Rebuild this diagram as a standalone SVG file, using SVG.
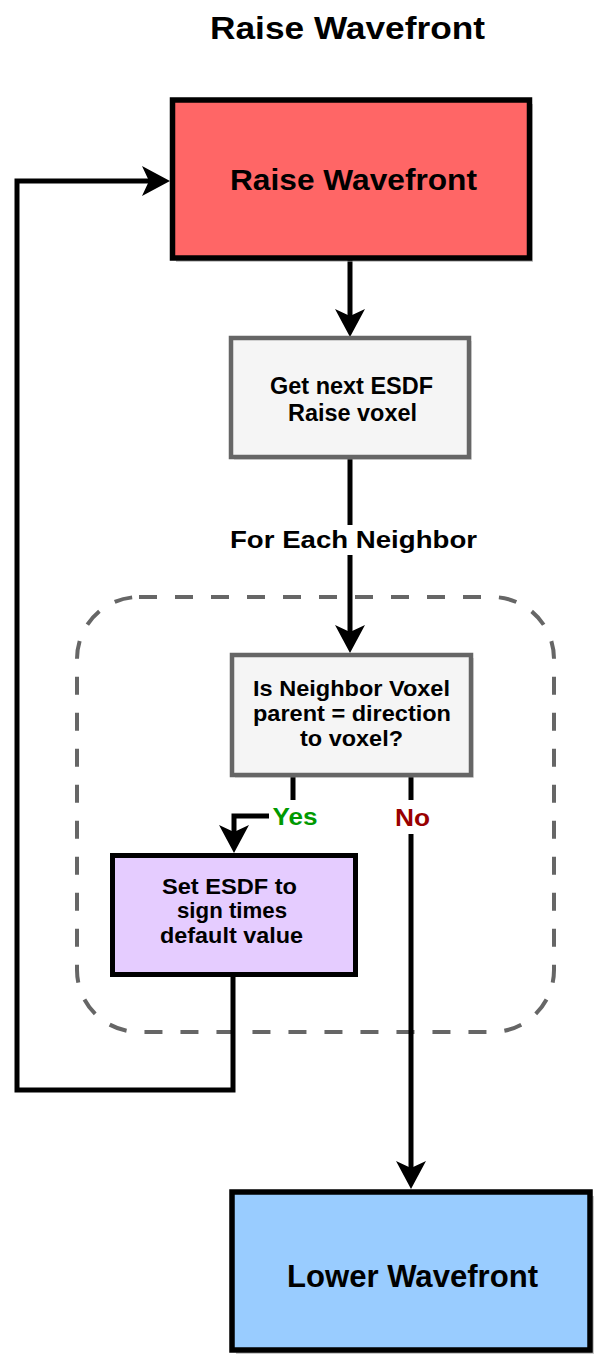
<svg xmlns="http://www.w3.org/2000/svg" width="598" height="1367" viewBox="0 0 598 1367">
<style>
text{font-family:"Liberation Sans",Arial,sans-serif;font-weight:bold;text-anchor:middle;fill:#000}
.conn{fill:none;stroke:#000;stroke-width:5;stroke-linejoin:miter}
.shadow{fill:#9a9a9a;opacity:0.55}
.grey{fill:#f5f5f5;stroke:#666;stroke-width:4.5}
.lbl{fill:#fff}
</style>
<defs>
<marker id="arr" markerUnits="userSpaceOnUse" viewBox="0 0 28 30" markerWidth="28" markerHeight="30" refX="7" refY="15" orient="auto">
<path d="M0,0 L28,15 L0,30 L7,15 Z" fill="#000"/>
</marker>
</defs>
<rect width="598" height="1367" fill="#fff"/>
<text id="title" x="347.5" y="39" font-size="31" textLength="275" lengthAdjust="spacingAndGlyphs">Raise Wavefront</text>

<g id="group">
<rect x="77" y="597" width="477" height="435" rx="62" ry="62" fill="none" stroke="#666" stroke-width="4" stroke-dasharray="18 18"/>
</g>

<g id="connectors">
<path class="conn" d="M350,260 L350,316" marker-end="url(#arr)"/>
<path class="conn" d="M350,459 L350,632" marker-end="url(#arr)"/>
<path class="conn" d="M293,777 L293,816 L234,816 L234,832" marker-end="url(#arr)"/>
<path class="conn" d="M411,777 L411,1168" marker-end="url(#arr)"/>
<path class="conn" d="M233,977 L233,1090 L17,1090 L17,181 L149,181" marker-end="url(#arr)"/>
<rect class="lbl" x="224" y="525" width="260" height="30"/>
<text x="353.5" y="548" font-size="23.5" textLength="247" lengthAdjust="spacingAndGlyphs">For Each Neighbor</text>
<rect class="lbl" x="269" y="800" width="52" height="34"/>
<text x="295" y="825" font-size="23.5" textLength="45" lengthAdjust="spacingAndGlyphs" style="fill:#009900">Yes</text>
<rect class="lbl" x="392" y="800" width="40" height="34"/>
<text x="412.5" y="826" font-size="23.5" textLength="35" lengthAdjust="spacingAndGlyphs" style="fill:#990000">No</text>
</g>

<g id="raise">
<rect class="shadow" x="176" y="104" width="357" height="158"/>
<rect x="172.5" y="100" width="357" height="158" fill="#ff6666" stroke="#000" stroke-width="5.5"/>
<text x="353.5" y="190" font-size="30" textLength="247" lengthAdjust="spacingAndGlyphs">Raise Wavefront</text>
</g>

<g id="getnext">
<rect class="shadow" x="234" y="341" width="238" height="119" style="opacity:0.3"/>
<rect class="grey" x="231" y="338" width="238" height="119"/>
<text x="351.5" y="393.5" font-size="23" textLength="163" lengthAdjust="spacingAndGlyphs">Get next ESDF</text>
<text x="352.5" y="420.5" font-size="23" textLength="129" lengthAdjust="spacingAndGlyphs">Raise voxel</text>
</g>

<g id="isneighbor">
<rect class="shadow" x="235" y="658" width="239" height="120" style="opacity:0.3"/>
<rect class="grey" x="232" y="655" width="239" height="120"/>
<text x="351.5" y="695.5" font-size="22" textLength="197" lengthAdjust="spacingAndGlyphs">Is Neighbor Voxel</text>
<text x="352" y="720.5" font-size="22" textLength="198" lengthAdjust="spacingAndGlyphs">parent = direction</text>
<text x="351.5" y="745.5" font-size="22" textLength="103" lengthAdjust="spacingAndGlyphs">to voxel?</text>
</g>

<g id="setesdf">
<rect x="112.5" y="855.5" width="243" height="119" fill="#e5ccff" stroke="#000" stroke-width="5"/>
<text x="229.5" y="893.5" font-size="22" textLength="135" lengthAdjust="spacingAndGlyphs">Set ESDF to</text>
<text x="232" y="917.5" font-size="22" textLength="110" lengthAdjust="spacingAndGlyphs">sign times</text>
<text x="231.5" y="942.5" font-size="22" textLength="143" lengthAdjust="spacingAndGlyphs">default value</text>
</g>

<g id="lower">
<rect class="shadow" x="236" y="1196" width="358" height="158"/>
<rect x="232" y="1192" width="358" height="158" fill="#99ccff" stroke="#000" stroke-width="5.5"/>
<text x="412.5" y="1286.5" font-size="31" textLength="251" lengthAdjust="spacingAndGlyphs">Lower Wavefront</text>
</g>
</svg>
